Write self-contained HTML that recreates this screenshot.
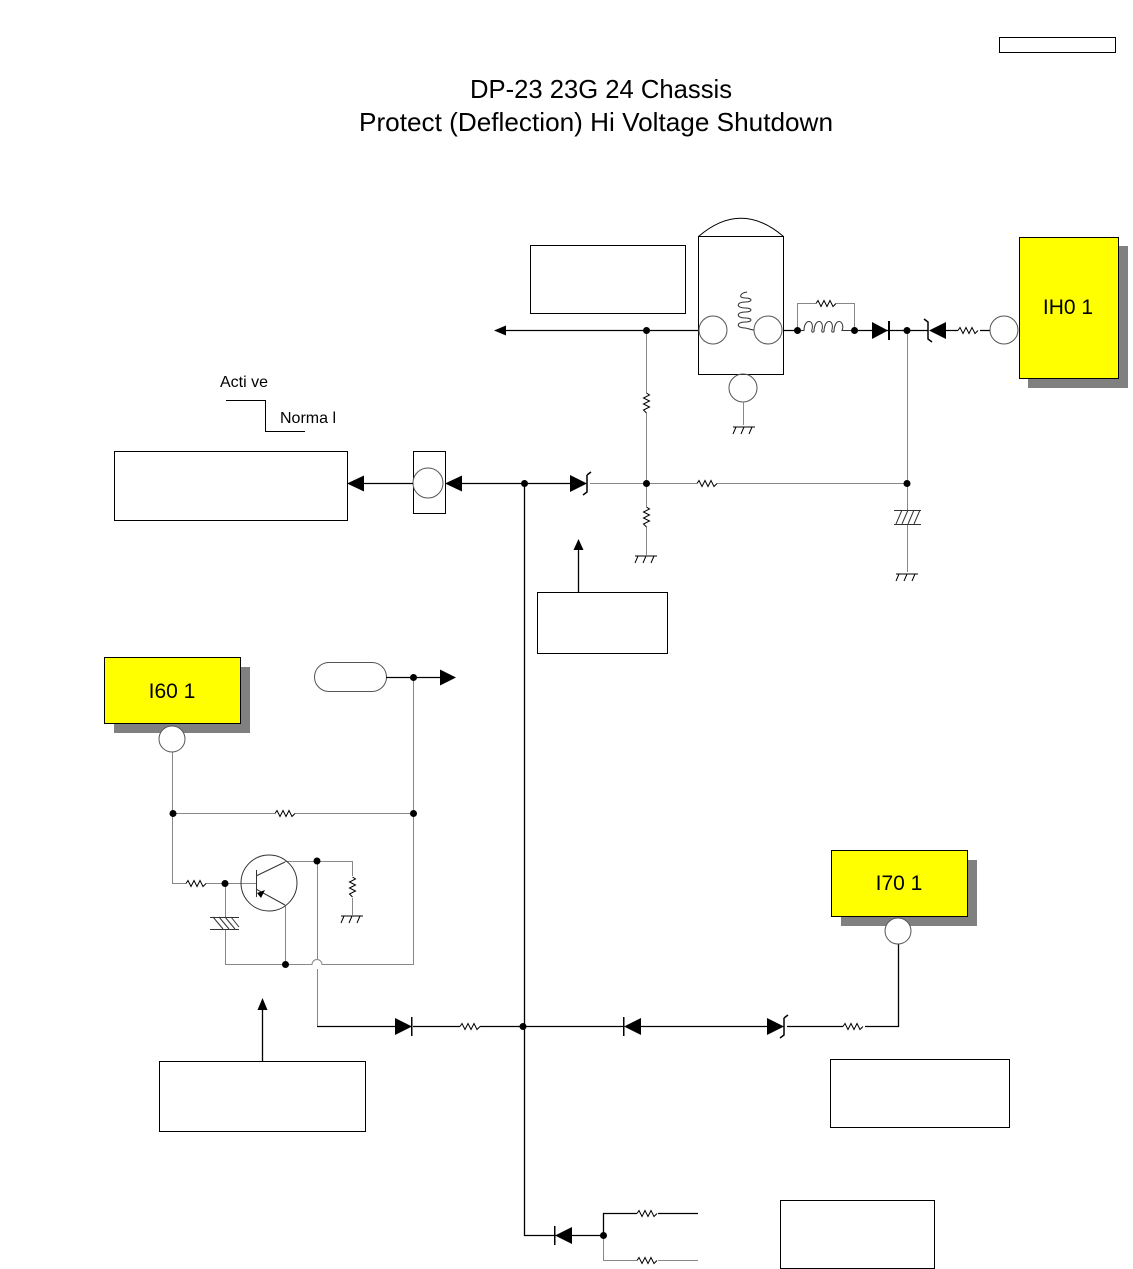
<!DOCTYPE html>
<html><head><meta charset="utf-8"><style>
html,body{margin:0;padding:0;background:#fff}
svg{display:block}
text{font-family:"Liberation Sans",sans-serif}
</style></head><body>
<svg width="1133" height="1269" viewBox="0 0 1133 1269" xmlns="http://www.w3.org/2000/svg">
<defs>
<path id="rh" d="M0 0 l2 -3 l3 6 l3 -6 l3 6 l3 -6 l3 6 l3 -3" fill="none" stroke="#000" stroke-width="1"/>
<path id="rv" d="M0 0 l3 2 l-6 3 l6 3 l-6 3 l6 3 l-6 3 l3 3" fill="none" stroke="#000" stroke-width="1"/>
<g id="gnd" fill="none" stroke="#000" stroke-width="1"><path d="M-10 0 h22 M-10 7 l3 -7 M-2 7 l3 -7 M6 7 l3 -7"/></g>
</defs>
<rect width="1133" height="1269" fill="#fff"/>
<rect x="999.5" y="37.5" width="116" height="15" fill="none" stroke="#000"/>
<text x="601" y="98" font-size="26" text-anchor="middle" textLength="262" lengthAdjust="spacingAndGlyphs">DP-23  23G  24  Chassis</text>
<text x="596" y="131" font-size="26" text-anchor="middle" textLength="474" lengthAdjust="spacingAndGlyphs">Protect (Deflection) Hi Voltage Shutdown</text>

<g fill="none" stroke="#000" stroke-width="1">
<rect x="530.5" y="245.5" width="155" height="68"/>
<rect x="698.5" y="236.5" width="85" height="138"/>
<path d="M698.5 236.5 Q741 200 783.5 236.5"/>
<circle cx="713" cy="330" r="14" stroke="#555"/>
<circle cx="768" cy="330" r="14" stroke="#555"/>
<circle cx="743" cy="388" r="14" stroke="#555"/>
<path d="M747 292 c-7 1 -9 6 -2 6 c8 0 8 4 0 4 c-9 0 -9 6 0 6 c8 0 8 4 0 4 c-9 0 -9 6 0 6 c8 0 8 4 0 4 c-9 0 -9 6 0 6 c3 0 5 2 9 2" stroke="#333"/>
<rect x="114.5" y="451.5" width="233" height="69"/>
<rect x="413.5" y="451.5" width="32" height="62"/>
<rect x="537.5" y="592.5" width="130" height="61"/>
<rect x="159.5" y="1061.5" width="206" height="70"/>
<rect x="830.5" y="1059.5" width="179" height="68"/>
<rect x="780.5" y="1200.5" width="154" height="68"/>
<rect x="314.5" y="662.5" width="72" height="29" rx="14.5" stroke="#555"/>
</g>
<circle cx="428" cy="483" r="15" fill="#fff" stroke="#555"/>

<rect x="1028" y="246" width="100" height="142" fill="#808080"/>
<rect x="1019.5" y="237.5" width="99" height="141" fill="#ff0" stroke="#000"/>
<text x="1068" y="314" font-size="21" text-anchor="middle">IH0 1</text>
<rect x="114" y="667" width="136" height="66" fill="#808080"/>
<rect x="104.5" y="657.5" width="136" height="66" fill="#ff0" stroke="#000"/>
<text x="172" y="698" font-size="21" text-anchor="middle">I60 1</text>
<rect x="841" y="860" width="136" height="66" fill="#808080"/>
<rect x="831.5" y="850.5" width="136" height="66" fill="#ff0" stroke="#000"/>
<text x="899" y="890" font-size="21" text-anchor="middle">I70 1</text>

<text x="220" y="387" font-size="16">Acti ve</text>
<text x="280" y="423" font-size="16">Norma l</text>
<path d="M226 400.5 H265.5 V431.5 H305" fill="none" stroke="#000"/>

<g fill="none" stroke="#000" stroke-width="1.3">
<path d="M505 330.5 H698"/>
<path d="M524.5 483 V1235.5 H556"/>
<path d="M364 483.5 H413"/>
<path d="M462 483.5 H570"/>
<path d="M783 330.5 H797 M855 330.5 H928 M946 330.5 H958 M980 330.5 H990"/>
<path d="M386 677.5 H440"/>
<path d="M317 1026.5 H395 M413 1026.5 H460 M480 1026.5 H623 M641 1026.5 H767 M787 1026.5 H843 M865 1026.5 H898.5 V944"/>
<path d="M572 1235.5 H603.5 V1213.5 H637 M658 1213.5 H698"/>
<path d="M578.5 592 V550 M262.5 1061 V1010"/>
</g>
<g fill="none" stroke="#888" stroke-width="1">
<path d="M646.5 330 V393 M646.5 413 V507 M646.5 527 V555"/>
<path d="M590 483.5 H697 M717 483.5 H907"/>
<path d="M907.5 330 V510 M907.5 524 V572"/>
<path d="M797.5 330 V303.5 H816 M836 303.5 H854.5 V330"/>
<path d="M743.5 402 V425"/>
<path d="M413.5 677 V964.5 H322 a5 5 0 0 0 -10 0 H225.5 V929 M225.5 917 V883.5"/>
<path d="M172.5 752 V883.5 H186 M206 883.5 H256"/>
<path d="M173 813.5 H275 M295 813.5 H413"/>
<path d="M317.5 861.5 V959 M317.5 969 V1026 M285 861.5 H352.5 V876 M352.5 898 V915"/>
<path d="M285.5 905 V964"/>
<path d="M603.5 1235 V1260.5 H637 M658 1260.5 H698"/>
</g>
<path d="M797 330.5 H804 c0 -5 2 -9 5 -9 c3 0 4 4 3 8 c-1 3 1 3 2 2 c0 -5 2 -10 5 -10 c3 0 4 4 3 8 c-1 3 1 3 2 2 c0 -5 2 -10 5 -10 c3 0 4 4 3 8 c-1 3 1 3 2 2 c0 -5 2 -10 5 -10 c3 0 5 5 3 9 H855" fill="none" stroke="#333"/>
<use href="#rh" x="816" y="303.5"/>
<use href="#rh" x="958" y="330.5"/>
<use href="#rh" x="697" y="483.5"/>
<use href="#rh" x="275" y="813.5"/>
<use href="#rh" x="186" y="883.5"/>
<use href="#rh" x="460" y="1026.5"/>
<use href="#rh" x="843" y="1026.5"/>
<use href="#rh" x="637" y="1213.5"/>
<use href="#rh" x="637" y="1260.5"/>
<use href="#rv" x="646.5" y="393"/>
<use href="#rv" x="646.5" y="507"/>
<use href="#rv" x="352.5" y="877"/>
<use href="#gnd" x="743" y="427"/>
<use href="#gnd" x="645" y="556"/>
<use href="#gnd" x="906" y="574"/>
<use href="#gnd" x="351" y="916"/>
<g fill="none" stroke="#333">
<path d="M894 510.5 H921 M894 524.5 H921 M896 524 l6 -14 M902 524 l6 -14 M908 524 l6 -14 M914 524 l6 -14"/>
<path d="M210 917.5 H239 M210 929.5 H239 M213 917 l10 12 M219 917 l10 12 M225 917 l10 12 M231 917 l8 10"/>
</g>
<circle cx="269" cy="883" r="28" fill="none" stroke="#333"/>
<path d="M256.5 870 V897 M256 876 L285 862 M256 889 L285 905" fill="none" stroke="#333"/>
<path d="M257 893 l8 -3 l-4 8z" fill="#000"/>
<circle cx="1004" cy="330" r="14" fill="#fff" stroke="#555"/>
<circle cx="172" cy="739" r="13" fill="#fff" stroke="#555"/>
<circle cx="898" cy="931" r="13" fill="#fff" stroke="#555"/>
<g fill="#000">
<path d="M494 330.5 l12 -5 v10z"/>
<path d="M347 483.5 l17 -8 v16z"/>
<path d="M445 483.5 l17 -8 v16z"/>
<path d="M456 677.5 l-16 -8 v16z"/>
<path d="M578.5 539 l-5 11 h10z"/>
<path d="M262.5 998 l-5 12 h10z"/>
<path d="M872 322 l16 8.5 l-16 8.5z"/><rect x="888" y="321" width="2" height="19"/>
<path d="M946 322 l-17 8.5 l17 8.5z"/>
<path d="M570 475 l17 8.5 l-17 8.5z"/>
<path d="M395 1018 l17 8.5 l-17 8.5z"/><rect x="411" y="1017" width="1.5" height="19"/>
<path d="M624 1026.5 l17 -8.5 v17z"/><rect x="623" y="1017" width="1.5" height="19"/>
<path d="M767 1018 l17 8.5 l-17 8.5z"/>
<path d="M555 1235.5 l17 -8.5 v17z"/><rect x="554" y="1226" width="1.5" height="19"/>
<circle cx="646.5" cy="330.5" r="3.5"/>
<circle cx="797.5" cy="330.5" r="3.5"/>
<circle cx="854.5" cy="330.5" r="3.5"/>
<circle cx="907" cy="330.5" r="3.5"/>
<circle cx="524.5" cy="483.5" r="3.5"/>
<circle cx="646.5" cy="483.5" r="3.5"/>
<circle cx="907" cy="483.5" r="3.5"/>
<circle cx="413.5" cy="677.5" r="3.5"/>
<circle cx="173" cy="813.5" r="3.5"/>
<circle cx="413.5" cy="813.5" r="3.5"/>
<circle cx="225" cy="883.5" r="3.5"/>
<circle cx="317" cy="861" r="3.5"/>
<circle cx="285.5" cy="964.5" r="3.5"/>
<circle cx="523" cy="1026.5" r="3.5"/>
<circle cx="603.5" cy="1235.5" r="3.5"/>
</g>
<g fill="none" stroke="#000" stroke-width="1.5">
<path d="M924 319 l4 3 v17 l4 3"/>
<path d="M587 475 v17 l-4 3 M587 475 l4 -3"/>
<path d="M784 1018 v17 l-4 3 M784 1018 l4 -3"/>
</g>
</svg>
</body></html>
